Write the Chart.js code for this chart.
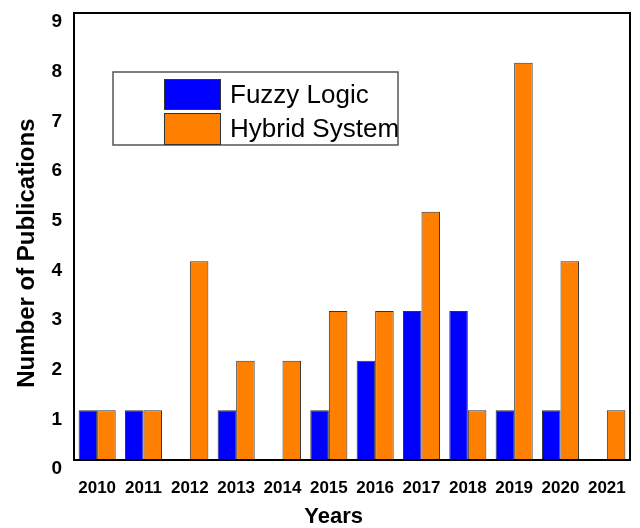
<!DOCTYPE html>
<html>
<head>
<meta charset="utf-8">
<script src="https://cdn.jsdelivr.net/npm/chart.js@4/dist/chart.umd.min.js"></script>
<style>
html,body{margin:0;padding:0;background:#fff;}
#wrap{width:640px;height:528px;}
</style>
</head>
<body>
<div id="wrap"><canvas id="c" width="640" height="528"></canvas></div>
<script>
const years = ['2010','2011','2012','2013','2014','2015','2016','2017','2018','2019','2020','2021'];
const fuzzyLogic = [1,1,0,1,0,1,2,3,3,1,1,0];
const hybridSystem = [1,1,4,2,2,3,3,5,1,8,4,1];
const seriesNames = ['Fuzzy Logic','Hybrid System'];
const yTicks = [0,1,2,3,4,5,6,7,8,9];

const FONT = '"Liberation Sans", Arial, sans-serif';

const framePlugin = {
  id: 'frame',
  afterDatasetsDraw(chart) {
    const {ctx, chartArea: a} = chart;
    ctx.save();
    ctx.strokeStyle = '#000';
    ctx.lineWidth = 2;
    ctx.strokeRect(a.left, a.top, a.right - a.left, a.bottom - a.top);
    ctx.restore();
  }
};

const boxLegend = {
  id: 'boxLegend',
  afterDraw(chart) {
    const ctx = chart.ctx;
    ctx.save();
    ctx.fillStyle = '#fff';
    ctx.fillRect(113, 72, 285, 73);
    ctx.strokeStyle = '#555';
    ctx.lineWidth = 1.5;
    ctx.strokeRect(113, 72, 285, 73);
    const rows = [[79, 31], [113, 32]];
    chart.data.datasets.forEach((ds, i) => {
      const [y, h] = rows[i];
      ctx.fillStyle = ds.backgroundColor;
      ctx.fillRect(164, y, 57, h);
      ctx.strokeStyle = '#333';
      ctx.lineWidth = 1;
      ctx.strokeRect(164.5, y + 0.5, 56, h - 1);
      ctx.fillStyle = '#000';
      ctx.font = '26px ' + FONT;
      ctx.textBaseline = 'middle';
      ctx.textAlign = 'left';
      ctx.fillText(ds.label, 230, y + h / 2 + 1);
    });
    ctx.restore();
  }
};

new Chart(document.getElementById('c'), {
  type: 'bar',
  data: {
    labels: years,
    datasets: [
      { label: seriesNames[0], data: fuzzyLogic, backgroundColor: '#0000FF', borderColor: '#333', borderWidth: 1, barPercentage: 1, categoryPercentage: 0.8 },
      { label: seriesNames[1], data: hybridSystem, backgroundColor: '#FF8000', borderColor: '#333', borderWidth: 1, barPercentage: 1, categoryPercentage: 0.8 }
    ]
  },
  options: {
    responsive: false,
    animation: false,
    layout: { padding: { top: 13, right: 10, left: 0, bottom: 0 } },
    plugins: { legend: { display: false }, tooltip: { enabled: false } },
    scales: {
      x: {
        grid: { display: false, drawTicks: false },
        border: { display: true, color: '#000', width: 2 },
        ticks: { color: '#000', font: { family: FONT, size: 17, weight: 'bold' }, padding: 18, maxRotation: 0, autoSkip: false },
        title: { display: true, text: 'Years' + '\u00a0'.repeat(6), color: '#000', font: { family: FONT, size: 22, weight: 'bold', lineHeight: 1 }, padding: 0 },
        afterFit(s) { s.height = 68; s.paddingLeft = 0; s.paddingRight = 0; }
      },
      y: {
        min: 0, max: 9,
        afterBuildTicks(s) { s.ticks = yTicks.map(v => ({ value: v })); },
        grid: { display: false, drawTicks: false },
        border: { display: true, color: '#000', width: 2 },
        ticks: { color: '#000', font: { family: FONT, size: 19, weight: 'bold' }, padding: 12, labelOffset: 9 },
        title: { display: true, text: 'Number of Publications' + '\u00a0'.repeat(5), color: '#000', font: { family: FONT, size: 24, weight: 'bold' }, padding: { top: 13, bottom: 0 } },
        afterFit(s) { s.width = 74; s.paddingTop = 0; s.paddingBottom = 0; }
      }
    }
  },
  plugins: [framePlugin, boxLegend]
});
</script>
</body>
</html>
